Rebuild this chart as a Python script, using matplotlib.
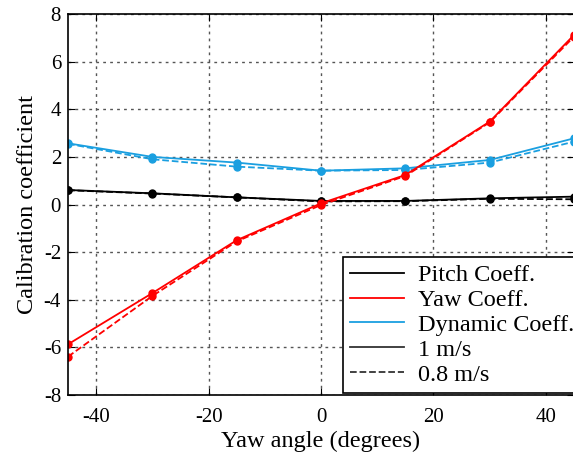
import matplotlib
matplotlib.use("Agg")
import matplotlib.pyplot as plt
from matplotlib.lines import Line2D

plt.rcParams['font.family'] = ['Liberation Serif', 'DejaVu Serif']
plt.rcParams['axes.unicode_minus'] = False

# data
yaw = [-45, -30, -15, 0, 15, 30, 45]

pitch_1 = [0.61, 0.47, 0.30, 0.15, 0.15, 0.26, 0.33]
pitch_08 = [0.60, 0.46, 0.30, 0.13, 0.14, 0.24, 0.22]

yawc_1 = [-5.87, -3.72, -1.50, 0.05, 1.24, 3.48, 7.12]
yawc_08 = [-6.39, -3.84, -1.55, -0.02, 1.20, 3.45, 7.05]

dyn_1 = [2.57, 2.00, 1.76, 1.42, 1.52, 1.87, 2.78]
dyn_08 = [2.55, 1.90, 1.59, 1.42, 1.45, 1.76, 2.64]

blue = '#1a9fe0'
red = '#ff0000'

fig = plt.figure(figsize=(5.73, 4.59), dpi=100)
ax = fig.add_axes([0.1187, 0.1394, 0.8831, 0.8301])

ax.plot(yaw, pitch_08, '--', color='black', lw=1.3, marker='o', ms=5)
ax.plot(yaw, pitch_1, '-', color='black', lw=1.3, marker='o', ms=5)
ax.plot(yaw, dyn_08, '--', color=blue, lw=1.3, marker='o', ms=5)
ax.plot(yaw, dyn_1, '-', color=blue, lw=1.3, marker='o', ms=5)
ax.plot(yaw, yawc_08, '--', color=red, lw=1.3, marker='o', ms=5)
ax.plot(yaw, yawc_1, '-', color=red, lw=1.3, marker='o', ms=5)

ax.set_xlim(-45, 45)
ax.set_ylim(-8, 8)
ax.set_xticks([-40, -20, 0, 20, 40])
ax.set_yticks(range(-8, 9, 2))
ax.grid(True, linestyle=(0, (2, 3)), color='#555555', lw=1)
ax.tick_params(direction='in', labelsize=15, length=5, right=True, top=True)
ax.tick_params(axis='x', pad=9)
ax.tick_params(axis='y', pad=5)
for s in ax.spines.values():
    s.set_linewidth(1.2)

ax.set_xlabel('Yaw angle (degrees)', fontsize=17.5, labelpad=3)
ax.set_ylabel('Calibration coefficient', fontsize=17.5, labelpad=4)

handles = [
    Line2D([], [], color='black', lw=1.3),
    Line2D([], [], color=red, lw=1.3),
    Line2D([], [], color=blue, lw=1.3),
    Line2D([], [], color='#333333', lw=1.3),
    Line2D([], [], color='#333333', lw=1.3, ls='--'),
]
labels = ['Pitch Coeff.', 'Yaw Coeff.', 'Dynamic Coeff.', '1 m/s', '0.8 m/s']
leg = ax.legend(handles, labels, loc='lower left', bbox_to_anchor=(0.543, 0.005),
                fontsize=17.5, fancybox=False, framealpha=1, edgecolor='black',
                handlelength=2.2, handletextpad=0.6, labelspacing=0.12,
                borderpad=0.3, borderaxespad=0)
leg.get_frame().set_linewidth(1.2)

fig.savefig('out.png', dpi=100)
